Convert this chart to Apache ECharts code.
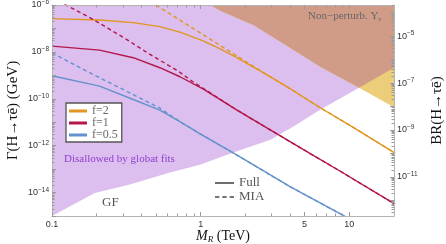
<!DOCTYPE html>
<html><head><meta charset="utf-8">
<script src="https://cdn.jsdelivr.net/npm/echarts@6/dist/echarts.min.js"></script>
<style>html,body{margin:0;padding:0;background:#fff}#c{width:446px;height:244px}</style>
</head><body><div id="c"></div>
<script>
// ---- data (M_R in TeV, Gamma in GeV) ----
const massF2 = [0.1, 0.209, 0.352, 0.532, 0.726, 1.04, 1.355, 1.765, 2.95, 4.03, 6.42, 10.77, 20.3];
const gammaF2 = [2.62e-7, 2.29e-7, 1.77e-7, 1.19e-7, 7.0e-8, 2.97e-8, 1.34e-8, 5.5e-9, 8.55e-10, 2.62e-10, 4.05e-11, 5.77e-12, 4.83e-13];
const massF2mia = [0.5, 0.7, 1, 1.4, 2, 3, 4.03, 6.42, 10.77, 20.3];
const gammaF2mia = [1.0e-6, 2.6e-7, 6.3e-8, 1.65e-8, 4.0e-9, 8.0e-10, 2.62e-10, 4.05e-11, 5.77e-12, 4.83e-13];

const massF1 = [0.1, 0.209, 0.352, 0.532, 0.726, 1.044, 1.757, 3.44, 4.70, 8.76, 20.3];
const gammaF1 = [1.77e-8, 1.19e-8, 5.65e-9, 2.11e-9, 8.7e-10, 2.6e-10, 3.3e-11, 2.6e-12, 8.05e-13, 7.9e-14, 3.2e-15];
const massF1mia = [0.1215, 0.1887, 0.3172, 0.456, 0.708, 0.849, 1.044, 1.757, 3.44, 4.70, 8.76, 20.3];
const gammaF1mia = [1.07e-6, 2.45e-7, 3.42e-8, 7.8e-9, 1.51e-9, 6.4e-10, 2.75e-10, 3.3e-11, 2.6e-12, 8.05e-13, 7.9e-14, 3.2e-15];

const massF05 = [0.1, 0.209, 0.352, 0.532, 0.726, 1.0, 1.658, 4.025, 9.18, 20.3];
const gammaF05 = [9.6e-10, 3.45e-10, 9.3e-11, 3.3e-11, 1.05e-11, 3.1e-12, 4.9e-13, 1.73e-14, 1.03e-15, 4.4e-17];
const massF05mia = [0.1, 0.1887, 0.3172, 0.532, 0.726, 1.0, 1.658, 4.025, 9.18, 20.3];
const gammaF05mia = [9.0e-9, 1.09e-9, 2.11e-10, 4.0e-11, 1.05e-11, 3.1e-12, 4.9e-13, 1.73e-14, 1.03e-15, 4.4e-17];

// global-fit bound (region above is disallowed)
const gfMass = [0.1, 0.194, 0.334, 0.622, 0.99, 1.66, 2.95, 4.24, 6.41, 11.64, 20.3];
const gfGamma = [1.0e-15, 9.5e-15, 2.2e-14, 7.1e-14, 1.55e-13, 5.1e-13, 1.8e-12, 6.8e-12, 3.5e-11, 2.95e-10, 2.2e-9];
// non-perturbative Yukawa bound (region above)
const npMass = [1.05, 1.159, 1.355, 2.275, 3.82, 6.42, 11.64, 20.3];
const npGamma = [1.5e-6, 1.0e-6, 5.65e-7, 1.36e-7, 1.77e-8, 2.29e-9, 2.95e-10, 4.12e-11];
const crossMass = 11.64;

const xTickValues = [0.1, 1, 5, 10];
const xTickLabels = ['0.1', '1', '5', '10'];
const yLeftLabelExps = [-14, -12, -10, -8, -6];
const yRightLabelExps = [-11, -9, -7, -5];
const BR_OFFSET = 2.33; // log10(1/Gamma_H)

const X_MIN = 0.1, X_MAX = 20;
const Y_MIN_EXP = -15, Y_MAX_EXP = -6;

// ---- helpers ----
const L = Math.log10;
const pts = (ms, gs) => ms.map((m, i) => [L(m), L(gs[i])]);
function majorTicks(lo, hi) { const o = []; for (let d = Math.ceil(lo - 1e-9); d <= hi + 1e-9; d++) o.push(d); return o; }
function minorTicks(lo, hi) {
  const o = [];
  for (let d = Math.floor(lo) - 1; d <= Math.ceil(hi); d++)
    for (let k = 2; k <= 9; k++) { const v = d + L(k); if (v > lo + 1e-9 && v < hi - 1e-9) o.push(v); }
  return o;
}
const xlo = L(X_MIN), xhi = L(X_MAX);
const xMajor = [-1, 0, L(5), 1];
const xMinor = minorTicks(xlo, xhi).filter(v => Math.abs(v - L(5)) > 1e-6);
const yrlo = Y_MIN_EXP + BR_OFFSET, yrhi = Y_MAX_EXP + BR_OFFSET;

const frameColor = '#b4b4b4', tickColor = '#9a9a9a';
const serif = 'Liberation Serif';
const sans = 'Liberation Sans';

const supRich = {
  b: { fontSize: 9, fontFamily: sans, color: '#333', lineHeight: 12 },
  s: { fontSize: 6.5, fontFamily: sans, color: '#333', lineHeight: 7, verticalAlign: 'top' }
};
const expFmt = v => '{b|10}{s|−' + Math.abs(Math.round(v)) + '}';

function ax(o) {
  const base = {
    type: 'value', z: 10, splitLine: { show: false },
    axisLine: { show: false, onZero: false }, axisTick: { show: false }, axisLabel: { show: false }
  };
  const r = Object.assign(base, o);
  r.axisLine = Object.assign({ onZero: false }, r.axisLine);
  return r;
}

const xAxis = [
  ax({ position: 'bottom', min: xlo, max: xhi,
    axisLine: { show: true, lineStyle: { color: frameColor, width: 1 } },
    axisTick: { show: true, inside: true, length: 4, customValues: xMajor, lineStyle: { color: tickColor } },
    axisLabel: { show: true, customValues: xTickValues.map(L), margin: 4, fontSize: 9, fontFamily: sans, color: '#333',
      formatter: v => { const i = xTickValues.findIndex(t => Math.abs(L(t) - v) < 1e-6); return i >= 0 ? xTickLabels[i] : ''; } },
    name: '{i|M}{r|R}{n| (TeV)}', nameLocation: 'middle', nameGap: 13, nameMoveOverlap: false,
    nameTextStyle: { verticalAlign: 'top', rich: {
      i: { fontFamily: serif, fontStyle: 'italic', fontSize: 14, color: '#111', lineHeight: 15 },
      r: { fontFamily: serif, fontStyle: 'italic', fontSize: 9, color: '#111', lineHeight: 9, verticalAlign: 'bottom' },
      n: { fontFamily: serif, fontSize: 14, color: '#111', lineHeight: 15 } } } }),
  ax({ position: 'bottom', min: xlo, max: xhi,
    axisTick: { show: true, inside: true, length: 2.5, customValues: xMinor, lineStyle: { color: tickColor } } }),
  ax({ position: 'top', min: xlo, max: xhi,
    axisLine: { show: true, lineStyle: { color: frameColor, width: 1 } },
    axisTick: { show: true, inside: true, length: 4, customValues: xMajor, lineStyle: { color: tickColor } } }),
  ax({ position: 'top', min: xlo, max: xhi,
    axisTick: { show: true, inside: true, length: 2.5, customValues: xMinor, lineStyle: { color: tickColor } } })
];

const yAxis = [
  ax({ position: 'left', min: Y_MIN_EXP, max: Y_MAX_EXP,
    axisLine: { show: true, lineStyle: { color: frameColor, width: 1 } },
    axisTick: { show: true, inside: true, length: 4, customValues: majorTicks(Y_MIN_EXP, Y_MAX_EXP), lineStyle: { color: tickColor } },
    axisLabel: { show: true, customValues: yLeftLabelExps, margin: 3, formatter: expFmt, rich: supRich },
    name: 'Γ(H→τē) (GeV)', nameLocation: 'middle', nameRotate: 90, nameGap: 31, nameMoveOverlap: false,
    nameTextStyle: { fontFamily: serif, fontSize: 15, color: '#111' } }),
  ax({ position: 'left', min: Y_MIN_EXP, max: Y_MAX_EXP,
    axisTick: { show: true, inside: true, length: 2.5, customValues: minorTicks(Y_MIN_EXP, Y_MAX_EXP), lineStyle: { color: tickColor } } }),
  ax({ position: 'right', min: yrlo, max: yrhi,
    axisLine: { show: true, lineStyle: { color: frameColor, width: 1 } },
    axisTick: { show: true, inside: true, length: 4, customValues: majorTicks(yrlo, yrhi), lineStyle: { color: tickColor } },
    axisLabel: { show: true, customValues: yRightLabelExps, margin: 3, formatter: expFmt, rich: supRich },
    name: 'BR(H→τē)', nameLocation: 'middle', nameRotate: 90, nameGap: 36, nameMoveOverlap: false,
    nameTextStyle: { fontFamily: serif, fontSize: 15, color: '#111' } }),
  ax({ position: 'right', min: yrlo, max: yrhi,
    axisTick: { show: true, inside: true, length: 2.5, customValues: minorTicks(yrlo, yrhi), lineStyle: { color: tickColor } } })
];

const COLORS = { purple: '#DCBFEE', yellow: '#ECCD7A', brown: '#D09C88', orange: '#E0961F', red: '#B3174B', blue: '#6492CC' };

const gfPts = pts(gfMass, gfGamma);
const npPts = pts(npMass, npGamma);
const envelope = npPts.filter(p => p[0] <= L(crossMass) + 1e-9).concat(gfPts.filter(p => p[0] > L(crossMass) + 1e-9));

function area(name, data, color) {
  return { name, type: 'line', data, symbol: 'none', silent: true, clip: true, z: 1,
    lineStyle: { width: 0 }, areaStyle: { color, opacity: 1, origin: 'end' } };
}
function curve(name, ms, gs, color, dashed) {
  return { name, type: 'line', data: pts(ms, gs), symbol: 'none', smooth: false, clip: true, z: 3,
    color, lineStyle: { color, width: 1.4, type: dashed ? [4, 3] : 'solid', join: 'round' } };
}

const series = [
  area('gf', gfPts, COLORS.purple),
  area('np', npPts, COLORS.yellow),
  area('both', envelope, COLORS.brown),
  curve('f=2', massF2, gammaF2, COLORS.orange, false),
  curve('f=1', massF1, gammaF1, COLORS.red, false),
  curve('f=0.5', massF05, gammaF05, COLORS.blue, false),
  curve('f=2 MIA', massF2mia, gammaF2mia, COLORS.orange, true),
  curve('f=1 MIA', massF1mia, gammaF1mia, COLORS.red, true),
  curve('f=0.5 MIA', massF05mia, gammaF05mia, COLORS.blue, true),
  { name: 'Full', type: 'line', data: [], color: '#4a4a4a' },
  { name: 'MIA', type: 'line', data: [], color: '#4a4a4a' }
];

const chart = echarts.init(document.getElementById('c'), null, { renderer: 'canvas' });
chart.setOption({
  animation: false,
  grid: { left: 52, right: 52, top: 5, bottom: 28, containLabel: false, outerBoundsMode: 'none' },
  xAxis, yAxis, series,
  legend: [
    { data: ['f=2', 'f=1', 'f=0.5'], orient: 'vertical', left: 66, top: 103, icon: 'rect',
      itemWidth: 18, itemHeight: 3, itemGap: 0, itemTextGap: 3, padding: [2, 4, 1, 3],
      borderColor: '#555', borderWidth: 1.3, backgroundColor: '#fff', selectedMode: false,
      textStyle: { fontFamily: serif, fontSize: 12, color: '#6a6a6a', lineHeight: 11.7 } },
    { data: [{ name: 'Full', icon: 'rect' }, { name: 'MIA', icon: 'path://M0,0h3v1h-3zM5,0h3v1h-3zM10,0h3v1h-3z' }],
      orient: 'vertical', left: 215, top: 176, itemWidth: 19, itemHeight: 1.6, itemGap: 0, itemTextGap: 2,
      padding: 0, selectedMode: false, symbolKeepAspect: false,
      textStyle: { fontFamily: serif, fontSize: 13, color: '#555', lineHeight: 14 } }
  ],
  graphic: [
    { type: 'text', left: 64, top: 154, z: 20, silent: true,
      style: { text: 'Disallowed by globat fits', font: '11px "Liberation Serif"', fill: '#9040d0' } },
    { type: 'text', left: 102, top: 196, z: 20, silent: true,
      style: { text: 'GF', font: '13px "Liberation Serif"', fill: '#555' } },
    { type: 'text', left: 308, top: 11, z: 20, silent: true,
      style: { text: '{a|Non−perturb. Y}{s|ν}', rich: {
        a: { fontFamily: serif, fontSize: 11, fill: '#666', lineHeight: 12 },
        s: { fontFamily: serif, fontSize: 7, fill: '#666', lineHeight: 7, verticalAlign: 'bottom' } } } }
  ]
});
</script></body></html>
